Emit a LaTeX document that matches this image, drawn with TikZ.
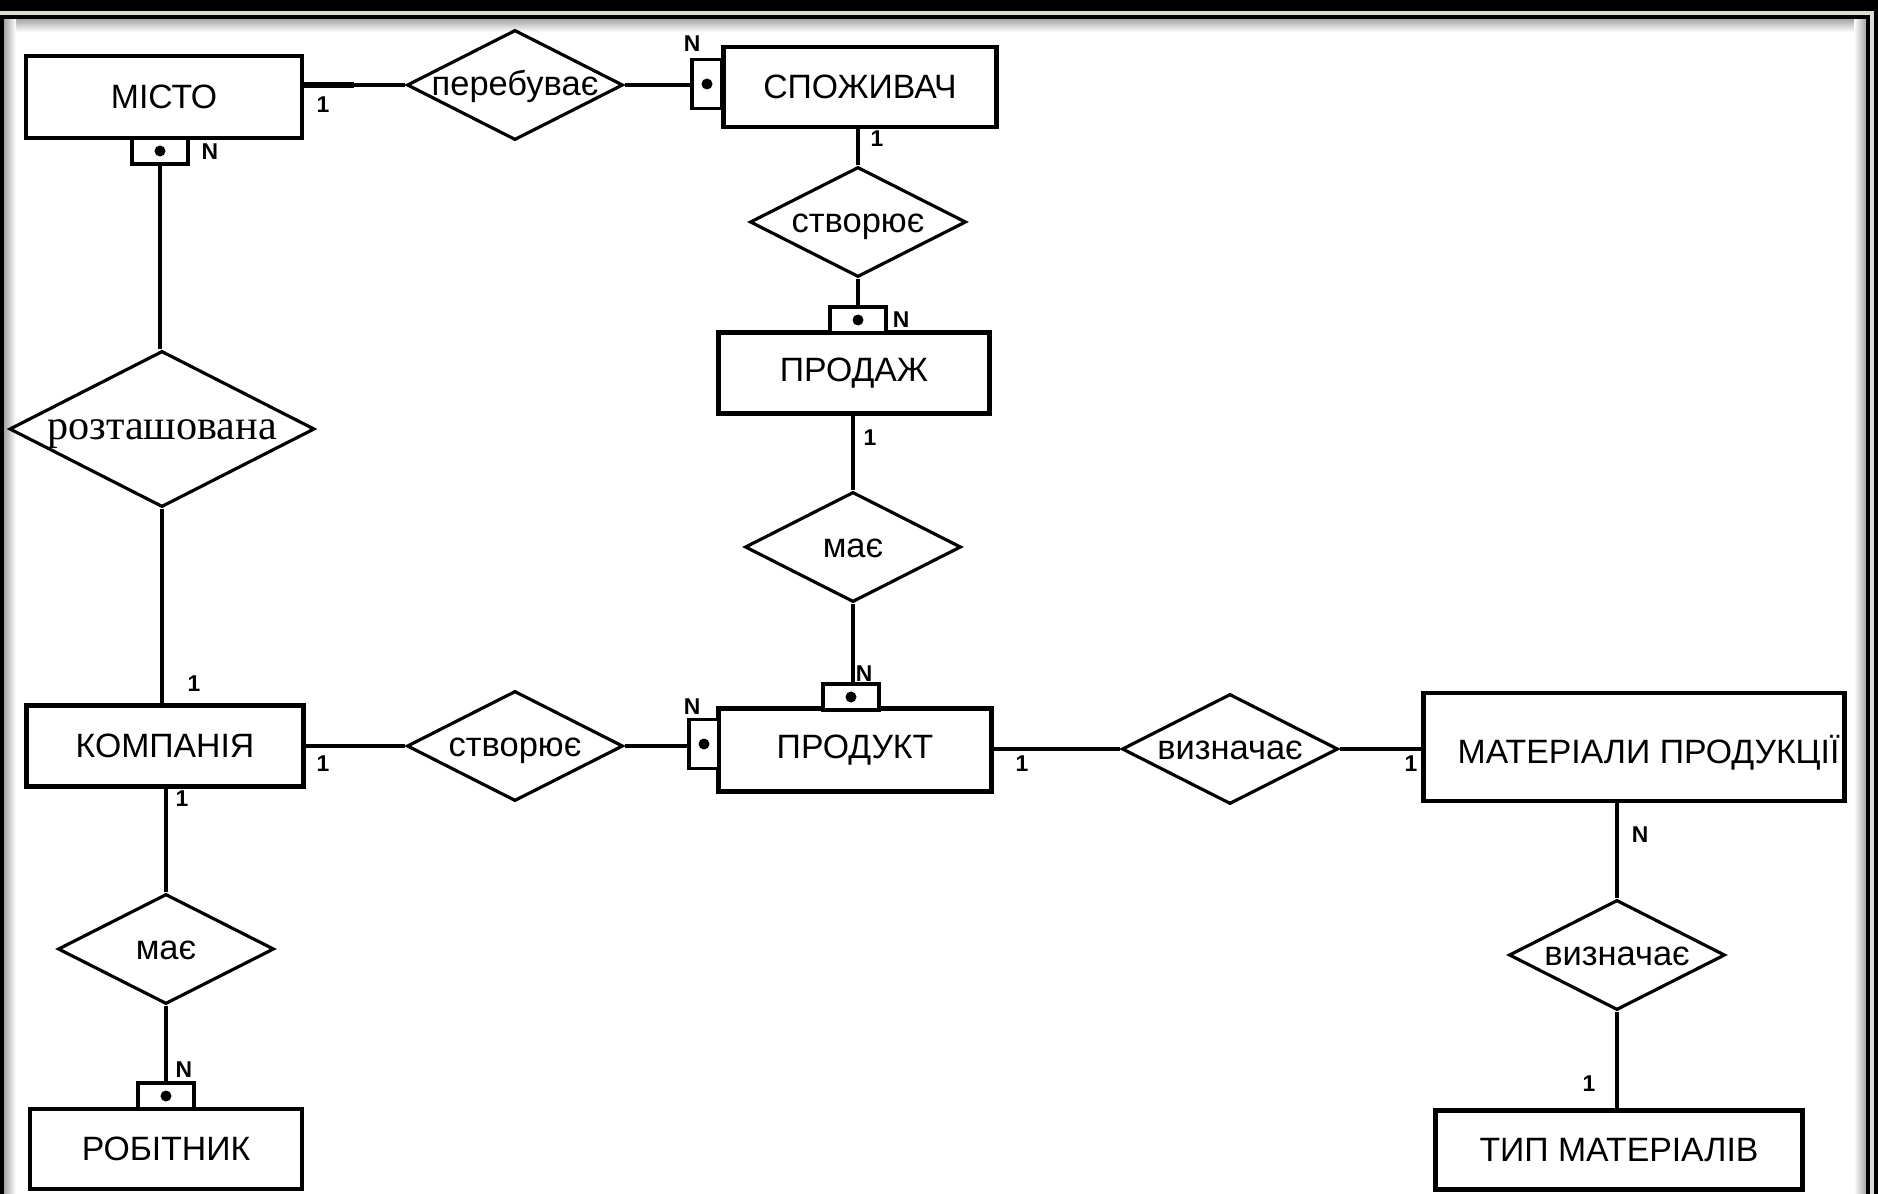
\documentclass[tikz,border=0pt]{standalone}
\usepackage{fontspec}
\setmainfont{Liberation Sans}
\newfontfamily\serifua{Liberation Serif}
\usetikzlibrary{shapes.geometric}

\definecolor{rahmenhell}{HTML}{DCDCD0}

\tikzset{
  entity/.style={draw, line width=1.3pt, fill=white, minimum width=2.75cm,
    minimum height=0.81cm, inner sep=0pt, font=\fontsize{9.6}{11}\selectfont},
  rel/.style={draw, diamond, aspect=2, line width=0.9pt, fill=white,
    minimum width=2.16cm, minimum height=1.10cm, inner sep=0pt,
    text height=1.1ex, text depth=0pt, font=\fontsize{9.8}{11}\selectfont},
  weakv/.style={draw, line width=1.1pt, fill=white, minimum width=0.56cm,
    minimum height=0.26cm, inner sep=0pt},
  weakh/.style={draw, line width=1.1pt, fill=white, minimum width=0.30cm,
    minimum height=0.49cm, inner sep=0pt},
  card/.style={inner sep=0pt, font=\fontsize{6.5}{7}\selectfont\bfseries},
  link/.style={line width=0.9pt}
}

% Punkt im schwachen Kasten
\def\punkt#1{\fill (#1) circle (0.055cm);}

\begin{document}
\begin{tikzpicture}[x=0.01cm,y=-0.01cm]
\useasboundingbox (0,0) rectangle (1878,1194);
% Rahmen
\fill[white] (0,0) rectangle (1878,1194);
\shade[top color=gray!70, bottom color=white] (4,19) rectangle (1866,32);
\shade[left color=gray!70, right color=white] (4,19) rectangle (16,1194);
\shade[left color=white, right color=gray!70] (1854,19) rectangle (1866,1194);
\fill[black] (0,0) rectangle (1878,11);
\fill[rahmenhell] (0,11) rectangle (1874,15);
\fill[rahmenhell] (1870,11) rectangle (1874,1194);
\fill[black] (1874,11) rectangle (1878,1194);
\fill[black] (0,15) rectangle (1870,19);
\fill[black] (0,15) rectangle (4,1194);
\fill[black] (1866,15) rectangle (1870,1194);

% Entitaeten
\node[entity, minimum width=2.76cm, minimum height=0.82cm] (mis) at (164,97) {МІСТО};
\node[entity, minimum width=2.73cm, minimum height=0.80cm] (spo) at (860,87) {СПОЖИВАЧ};
\node[entity, minimum width=2.71cm] (pro) at (854,373) {ПРОДАЖ};
\node[entity, minimum width=2.77cm] (kom) at (165,746) {КОМПАНІЯ};
\node[entity, minimum width=2.73cm, minimum height=0.83cm] (prd) at (855,750) {ПРОДУКТ};
\node[entity, minimum width=4.21cm, minimum height=1.08cm] (mat) at (1634,747) {};
\begin{scope}
\clip (mat.south west) rectangle (mat.north east);
\node[anchor=west, inner sep=0pt, font=\fontsize{9.6}{11}\selectfont] (mattext) at (1457,753) {МАТЕРІАЛИ ПРОДУКЦІЇ};
\end{scope}
\node[entity, minimum width=2.72cm, minimum height=0.80cm] (rob) at (166,1149) {РОБІТНИК};
\node[entity, minimum width=3.67cm, minimum height=0.79cm] (tip) at (1619,1150) {ТИП МАТЕРІАЛІВ};

% Beziehungen
\node[rel] (per) at (515,85) {перебуває};
\node[rel] (st1) at (858,222) {створює};
\node[rel, minimum width=3.05cm, minimum height=1.56cm, font=\serifua\fontsize{12}{14}\selectfont] (roz) at (162,429) {розташована};
\node[rel] (ma1) at (853,547) {має};
\node[rel] (st2) at (515,746) {створює};
\node[rel] (vy1) at (1230,749) {визначає};
\node[rel] (ma2) at (166,949) {має};
\node[rel] (vy2) at (1617,955) {визначає};

% schwache Kaesten
\node[weakv] (wmi) at (160,151) {};
\node[weakh] (wsp) at (707,84) {};
\node[weakv] (wpr) at (858,320) {};
\node[weakv] (wpt) at (851,697) {};
\node[weakh] (wpl) at (704,744) {};
\node[weakv] (wrb) at (166,1096) {};
\punkt{wmi}
\punkt{wsp}
\punkt{wpr}
\punkt{wpt}
\punkt{wpl}
\punkt{wrb}

% Linien
\draw[link] (per.west) -- (per.west -| mis.east);
\draw[line width=1.8pt] (per.west -| mis.east) -- ++(50,0);
\draw[link] (per.east) -- (per.east -| wsp.west);
\draw[link] (st1.north) -- (st1.north |- spo.south);
\draw[link] (st1.south) -- (st1.south |- wpr.north);
\draw[link] (ma1.north) -- (ma1.north |- pro.south);
\draw[link] (ma1.south) -- (ma1.south |- wpt.north);
\draw[link] (wmi.south) -- (wmi.south |- roz.north);
\draw[link] (roz.south) -- (roz.south |- kom.north);
\draw[link] (st2.west) -- (st2.west -| kom.east);
\draw[link] (st2.east) -- (st2.east -| wpl.west);
\draw[link] (vy1.west) -- (vy1.west -| prd.east);
\draw[link] (vy1.east) -- (vy1.east -| mat.west);
\draw[link] (ma2.north) -- (ma2.north |- kom.south);
\draw[line width=1.4pt] (ma2.south) -- (ma2.south |- wrb.north);
\draw[link] (vy2.north) -- (vy2.north |- mat.south);
\draw[link] (vy2.south) -- (vy2.south |- tip.north);

% Kardinalitaeten
\node[card] (c1) at (323,105) {1};
\node[card] (c2) at (210,152) {N};
\node[card] (c3) at (692,44) {N};
\node[card] (c4) at (877,139) {1};
\node[card] (c5) at (901,320) {N};
\node[card] (c6) at (870,438) {1};
\node[card] (c7) at (864,674) {N};
\node[card] (c8) at (692,707) {N};
\node[card] (c9) at (194,684) {1};
\node[card] (c10) at (323,764) {1};
\node[card] (c11) at (182,799) {1};
\node[card] (c12) at (1022,764) {1};
\node[card] (c13) at (1411,764) {1};
\node[card] (c14) at (1640,835) {N};
\node[card] (c15) at (1589,1084) {1};
\node[card] (c16) at (184,1070) {N};
\end{tikzpicture}
\end{document}
